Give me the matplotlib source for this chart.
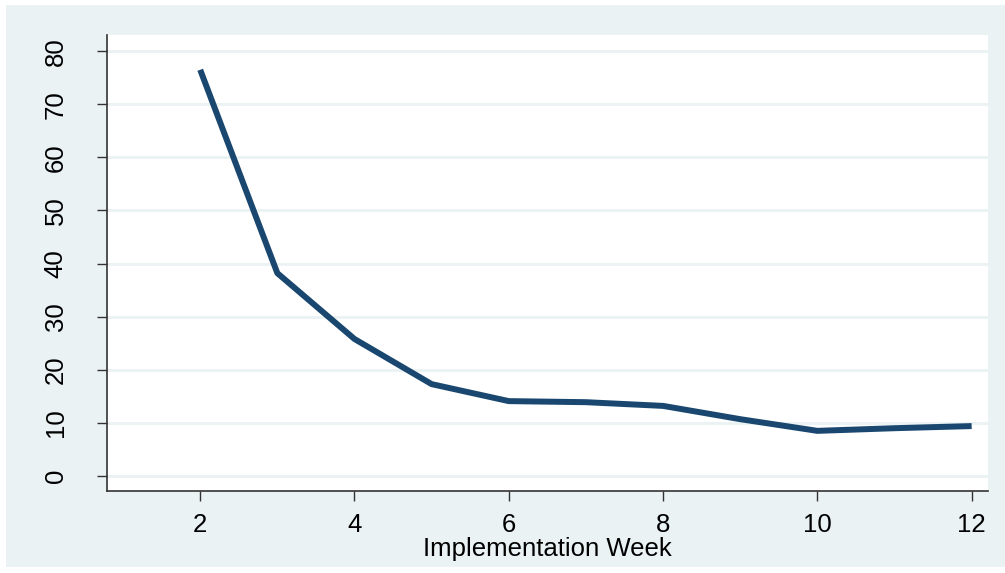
import matplotlib.pyplot as plt
from matplotlib.patches import Rectangle

plt.rcParams['font.family'] = ['Liberation Sans', 'DejaVu Sans']

weeks = [2, 3, 4, 5, 6, 7, 8, 9, 10, 11, 12]
values = [76.5, 38.2, 25.8, 17.3, 14.1, 13.9, 13.2, 10.7, 8.5, 9.0, 9.4]
x_ticks = [2, 4, 6, 8, 10, 12]
y_ticks = [0, 10, 20, 30, 40, 50, 60, 70, 80]

bg = '#EAF2F3'
line_col = '#1A476F'

fig = plt.figure(figsize=(10.05, 5.73), dpi=100)
fig.patch.set_facecolor('white')
# light outer panel, Stata-style
fig.add_artist(Rectangle((6 / 1005, 6 / 573), 1 - 6 / 1005, 1 - 11 / 573,
                         transform=fig.transFigure, facecolor=bg,
                         edgecolor='none', zorder=-10))

ax = fig.add_axes([106.7 / 1005, 1 - 490.7 / 573, 881 / 1005, 455.7 / 573])
ax.set_zorder(1)
ax.set_facecolor('white')

ax.plot(weeks, values, color=line_col, lw=4.3, solid_capstyle='butt', zorder=3)

ax.set_xlim(0.788, 12.208)
ax.set_ylim(-2.77, 83.05)
ax.set_xticks(x_ticks)
ax.set_yticks(y_ticks)
ax.set_yticklabels([str(v) for v in y_ticks], rotation=90, va='center')
ax.tick_params(axis='both', labelsize=18.5, length=7.5, width=1, color='#333333',
               direction='out')
ax.tick_params(axis='x', pad=8.5)
ax.tick_params(axis='y', pad=20.5)

for s in ['top', 'right']:
    ax.spines[s].set_visible(False)
for s in ['left', 'bottom']:
    ax.spines[s].set_color('#333333')
    ax.spines[s].set_linewidth(1.2)

ax.yaxis.grid(True, color=bg, lw=2)
ax.set_axisbelow(True)

ax.set_xlabel('Implementation Week', fontsize=18.5, labelpad=0)

fig.savefig('out.png', dpi=100, facecolor=fig.get_facecolor())
